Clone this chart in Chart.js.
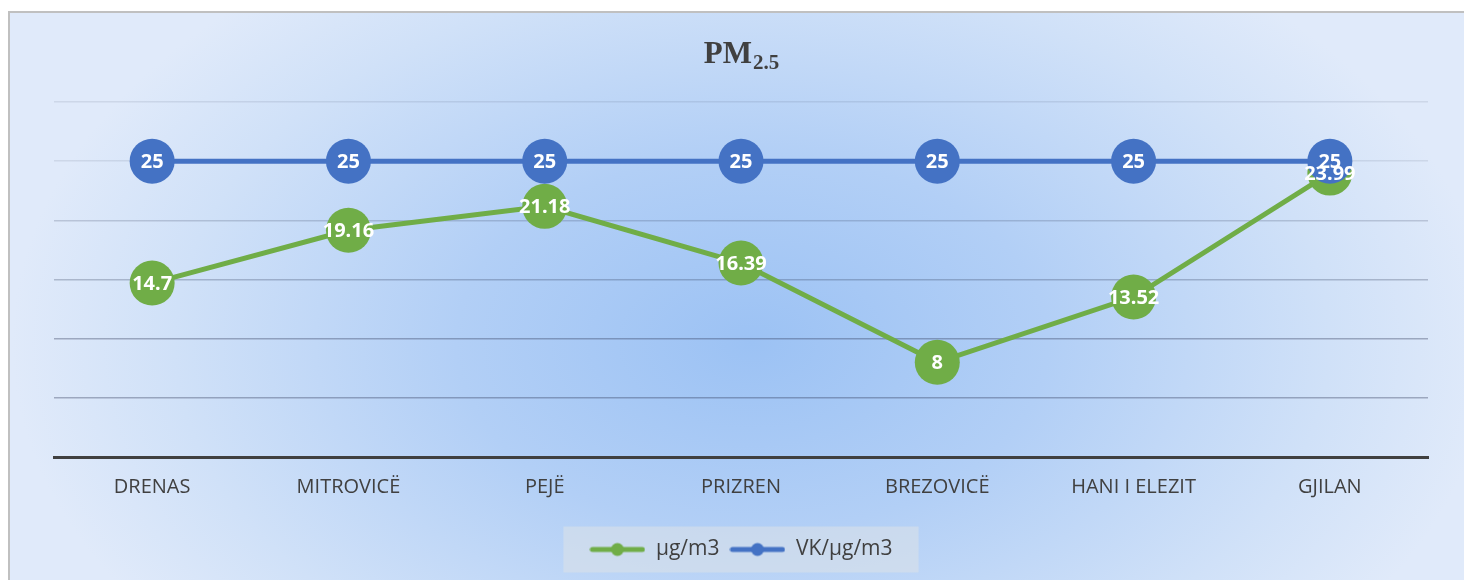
<!DOCTYPE html>
<html>
<head>
<meta charset="utf-8">
<script src="https://cdn.jsdelivr.net/npm/chart.js@4/dist/chart.umd.min.js"></script>
<style>
  html, body { margin: 0; padding: 0; width: 1464px; height: 580px; overflow: hidden; background: #fff; }
  #frame {
    position: absolute; left: 8px; top: 11px; width: 1520px; height: 620px;
    border: 2px solid #c0c0c0;
    background: radial-gradient(ellipse 740px 470px at 742px 330px, #9cc2f4 0%, #b2cff6 40%, #d0e1f8 78%, #e0eafa 100%);
  }
  #wrap { position: absolute; left: 0; top: 0; width: 1464px; height: 580px; }
</style>
</head>
<body>
<div id="frame"></div>
<div id="wrap"><canvas id="myChart"></canvas></div>
<script>
const ctx = document.getElementById("myChart");

const cities = ["DRENAS", "MITROVICË", "PEJË", "PRIZREN", "BREZOVICË", "HANI I ELEZIT", "GJILAN"];
const pmValues = [14.7, 19.16, 21.18, 16.39, 8, 13.52, 23.99];
const limitValues = [25, 25, 25, 25, 25, 25, 25];
const seriesNames = ["µg/m3", "VK/µg/m3"];

const green = "#70ad47";
const blue = "#4472c4";

// small line+dot picture for the legend
function legendMark(color) {
  const c = document.createElement("canvas");
  c.width = 56; c.height = 16;
  const g = c.getContext("2d");
  g.strokeStyle = color;
  g.lineWidth = 5;
  g.lineCap = "round";
  g.beginPath(); g.moveTo(3, 8); g.lineTo(53, 8); g.stroke();
  g.fillStyle = color;
  g.beginPath(); g.arc(28, 8, 6.5, 0, Math.PI * 2); g.fill();
  return c;
}

const titlePlugin = {
  id: "pmTitle",
  afterDraw(chart) {
    const c = chart.ctx;
    const cx = (chart.chartArea.left + chart.chartArea.right) / 2;
    c.save();
    c.fillStyle = "#404040";
    c.textBaseline = "alphabetic";
    c.font = "bold 31px 'Liberation Serif'";
    const w1 = c.measureText("PM").width;
    c.font = "bold 21px 'Liberation Serif'";
    const w2 = c.measureText("2.5").width;
    const x0 = cx - (w1 + w2) / 2;
    c.font = "bold 31px 'Liberation Serif'";
    c.textAlign = "left";
    c.fillText("PM", x0, 63);
    c.font = "bold 21px 'Liberation Serif'";
    c.fillText("2.5", x0 + w1 + 1, 69);
    c.restore();
  }
};

const legendBox = {
  id: "legendBox",
  beforeDraw(chart) {
    const boxes = chart.legend.legendHitBoxes;
    if (!boxes || !boxes.length) return;
    const l = boxes[0].left - 26;
    const r = boxes[boxes.length - 1].left + boxes[boxes.length - 1].width + 26;
    const cy = boxes[0].top + boxes[0].height / 2;
    const c = chart.ctx;
    c.save();
    c.fillStyle = "rgba(220,225,232,0.55)";
    c.fillRect(l, cy - 23, r - l, 46);
    c.restore();
  }
};

const valueLabels = {
  id: "valueLabels",
  afterDatasetsDraw(chart) {
    const c = chart.ctx;
    c.save();
    c.fillStyle = "#ffffff";
    c.font = "bold 20px 'Noto Sans'";
    c.textAlign = "center";
    c.textBaseline = "middle";
    [0, 1].forEach(i => {
      const meta = chart.getDatasetMeta(i);
      meta.data.forEach((pt, j) => {
        c.fillText(String(chart.data.datasets[i].data[j]), pt.x, pt.y + 1);
      });
    });
    c.restore();
  }
};

function gridColor(v) {
  if (v === 0) return "rgba(0,0,0,0)";
  if (v <= 10) return "rgba(40,50,80,0.35)";
  if (v === 15) return "rgba(40,50,80,0.27)";
  if (v === 20) return "rgba(40,50,80,0.2)";
  return "rgba(40,50,80,0.1)";
}

function createChart() {
  return new Chart(ctx, {
    type: "line",
    data: {
      labels: cities,
      datasets: [
        {
          label: seriesNames[0],
          data: pmValues,
          borderColor: green,
          backgroundColor: green,
          borderWidth: 5,
          pointRadius: 22.5,
          pointHoverRadius: 22.5,
          pointBorderWidth: 0,
          order: 1,
        },
        {
          label: seriesNames[1],
          data: limitValues,
          borderColor: blue,
          backgroundColor: blue,
          borderWidth: 5,
          pointRadius: 22.5,
          pointHoverRadius: 22.5,
          pointBorderWidth: 0,
          order: 0,
        },
      ],
    },
    options: {
      responsive: true,
      maintainAspectRatio: false,
      animation: false,
      layout: { padding: { left: 54, right: 36, top: 102, bottom: 10 } },
      scales: {
        x: {
          offset: true,
          grid: { display: false, drawTicks: false },
          border: { display: true, color: "#404040", width: 3 },
          ticks: { color: "#404040", font: { family: "'Open Sans'", size: 20 }, padding: 18 },
          afterFit(scale) { scale.height = 72; },
        },
        y: {
          min: 0,
          max: 30,
          ticks: { display: false, stepSize: 5 },
          border: { display: false },
          grid: {
            drawTicks: false,
            lineWidth: 1.5,
            color: (c) => gridColor(c.tick.value),
          },
        },
      },
      plugins: {
        legend: {
          position: "bottom",
          labels: {
            usePointStyle: true,
            pointStyleWidth: 56,
            color: "#404040",
            font: { family: "'Open Sans'", size: 21 },
            padding: 10,
            generateLabels(chart) {
              return chart.data.datasets.map((ds, i) => ({
                text: ds.label,
                pointStyle: legendMark(ds.borderColor),
                fillStyle: ds.borderColor,
                strokeStyle: ds.borderColor,
                lineWidth: 0,
                fontColor: "#404040",
                datasetIndex: i,
              }));
            },
          },
        },
        tooltip: { enabled: false },
        title: { display: false },
      },
    },
    plugins: [legendBox, valueLabels, titlePlugin],
  });
}

let x = createChart();
</script>
</body>
</html>
